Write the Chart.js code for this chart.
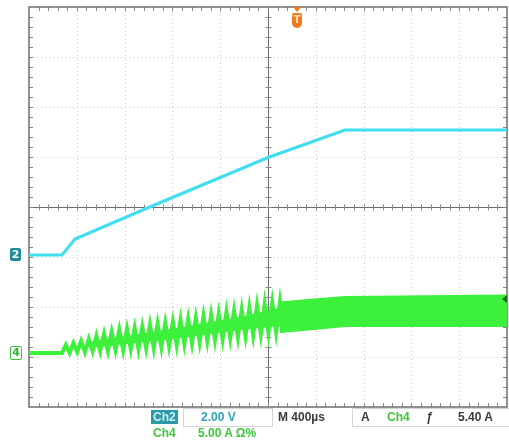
<!DOCTYPE html>
<html>
<head>
<meta charset="utf-8">
<script src="https://cdn.jsdelivr.net/npm/chart.js@4/dist/chart.umd.min.js"></script>
<style>
  html, body { margin: 0; padding: 0; background: #fff; }
  #wrap { position: relative; width: 509px; height: 443px; overflow: hidden; }
  #scope { position: absolute; left: 0; top: 0; }
  .lbl { position: absolute; white-space: nowrap; font-family: "Liberation Sans", Arial, sans-serif; font-weight: bold; font-size: 12px; line-height: 14px; }
  .mk { position: absolute; width: 11px; height: 13px; font: bold 11px/13px "DejaVu Sans", sans-serif; text-align: center; border-radius: 2px; }
  #mk2 { left: 10px; background: #1f8c9c; color: #fff; }
  #mk4 { left: 10px; border: 1px solid #3cc83c; color: #2fb82f; width: 10px; height: 12px; line-height: 12px; background: #fff; }
  #mkT { width: 10px; height: 15px; background: #f0781e; color: #ffd9b0; border-radius: 2px 2px 5px 5px; top: 13px; }
  .box { position: absolute; border: 1px solid #d4d4d4; }
</style>
</head>
<body>
<div id="wrap">
  <canvas id="scope" width="509" height="443"></canvas>
  <div class="mk" id="mk2">2</div>
  <div class="mk" id="mk4">4</div>
  <div class="mk" id="mkT">T</div>

  <div class="box" style="left:183px;top:408px;width:88px;height:17px;"></div>
  <div class="box" style="left:352px;top:408px;width:156px;height:17px;"></div>
  <div class="lbl" style="left:151px;top:410px;background:#2a9aaa;color:#cdeff3;padding:0 2px;">Ch2</div>
  <div class="lbl" style="left:201px;top:410px;color:#2aa6b8;">2.00 V</div>
  <div class="lbl" style="left:278px;top:410px;color:#3a3a3a;">M 400µs</div>
  <div class="lbl" style="left:361px;top:410px;color:#3a3a3a;">A</div>
  <div class="lbl" style="left:387px;top:410px;color:#3cc83c;">Ch4</div>
  <div class="lbl" style="left:426px;top:410px;color:#3a3a3a;font-style:italic;">ƒ</div>
  <div class="lbl" style="left:458px;top:410px;color:#3a3a3a;">5.40 A</div>
  <div class="lbl" style="left:153px;top:426px;color:#3cc83c;">Ch4</div>
  <div class="lbl" style="left:198px;top:426px;color:#3cc83c;">5.00 A Ω%</div>
</div>

<script>
// Scope capture: Ch2 (2 V/div) and Ch4 (5 A/div), 400 us/div, 10 x 8 divisions.

const TIME_PER_DIV = 400;   // us
const CH2_PER_DIV = 2;      // V
const CH4_PER_DIV = 5;      // A
const TRIGGER_TIME = 2243;  // us, position of the orange T marker
const TRIGGER_LEVEL = 5.4;  // A on Ch4

// Ch2 voltage ramp (us, V)
const ch2Time  = [0, 276, 385, 1000, 2000, 2644, 4000];
const ch2Volts = [0, 0,   0.64, 1.9, 3.9,  5.0,  5.0];

// Ch4 current before and during the visible ripple (us, A)
const ch4Time = [
  0, 276, 308, 340, 372, 404, 436, 468, 500, 532, 564, 596, 628, 660, 692, 724,
  756, 788, 820, 852, 884, 916, 948, 980, 1012, 1044, 1076, 1108, 1140, 1172, 1204, 1236,
  1268, 1300, 1332, 1364, 1396, 1428, 1460, 1492, 1524, 1556, 1588, 1620, 1652, 1684, 1716, 1748,
  1780, 1812, 1844, 1876, 1908, 1940, 1972, 2004, 2036, 2068, 2100, 2132
];
const ch4Amps = [
  0, 0, 0.8, 0.0, 1.0, 0.1, 1.2, 0.1, 1.4, 0.2, 1.7, 0.2, 1.9, 0.2, 2.1, 0.3,
  2.3, 0.3, 2.4, 0.4, 2.5, 0.4, 2.6, 0.5, 2.8, 0.5, 2.9, 0.6, 3.0, 0.7, 3.1, 0.8,
  3.3, 0.9, 3.4, 1.0, 3.5, 1.1, 3.7, 1.2, 3.8, 1.3, 3.9, 1.4, 4.1, 1.5, 4.2, 1.6,
  4.3, 1.7, 4.5, 1.8, 4.7, 1.9, 4.9, 2.0, 5.0, 2.1, 5.1, 2.1
];

// solid core of the ripple, where the teeth overlap (us, A)
const coreTime  = [500, 1140, 1766, 2100];
const coreUpper = [1.0, 2.2,  3.5,  4.4];
const coreLower = [0.6, 1.4,  2.4,  2.8];

// Ch4 ripple where it blurs into a solid band (us, A)
const bandTime  = [2100, 2388, 2644, 4000];
const bandUpper = [5.05, 5.35, 5.6,  5.75];
const bandLower = [2.1,  2.4,  2.7,  2.7];

// ground markers: divisions from screen centre
const CH2_OFFSET = -0.96;
const CH4_OFFSET = -2.92;

const CYAN = '#3fdff0';
const GREEN = '#3cf03c';

function pts(xs, ys) {
  return xs.map((x, i) => ({ x, y: ys[i] }));
}

function bandPair(label, xs, top, bottom) {
  return [
    { label: label + ' top', data: pts(xs, top), yAxisID: 'y4',
      borderColor: GREEN, borderWidth: 2, pointRadius: 0, tension: 0,
      backgroundColor: GREEN, fill: '+1' },
    { label: label + ' bottom', data: pts(xs, bottom), yAxisID: 'y4',
      borderColor: GREEN, borderWidth: 2, pointRadius: 0, tension: 0, fill: false }
  ];
}

const gridPlugin = {
  id: 'scopeGrid',
  beforeDatasetsDraw(chart) {
    const { ctx, chartArea: a, scales } = chart;
    const xs = scales.x, ys = scales.y4;
    const xAt = d => xs.getPixelForValue(d * TIME_PER_DIV);
    const yAt = d => ys.getPixelForValue((d - CH4_OFFSET) * CH4_PER_DIV);
    ctx.save();

    // dotted graticule
    ctx.strokeStyle = '#c9c9c9';
    ctx.lineWidth = 1;
    ctx.setLineDash([1, 3]);
    for (let i = 1; i < 10; i++) {
      if (i === 5) continue;
      const x = Math.round(xAt(i)) + 0.5;
      ctx.beginPath(); ctx.moveTo(x, a.top); ctx.lineTo(x, a.bottom); ctx.stroke();
    }
    for (let j = -3; j <= 3; j++) {
      if (j === 0) continue;
      const y = Math.round(yAt(j)) + 0.5;
      ctx.beginPath(); ctx.moveTo(a.left, y); ctx.lineTo(a.right, y); ctx.stroke();
    }
    ctx.setLineDash([]);

    // centre cross with minor ticks
    const cx = Math.round(xAt(5)) + 0.5, cy = Math.round(yAt(0)) + 0.5;
    ctx.strokeStyle = '#6a6a6a';
    ctx.beginPath();
    ctx.moveTo(cx, a.top); ctx.lineTo(cx, a.bottom);
    ctx.moveTo(a.left, cy); ctx.lineTo(a.right, cy);
    ctx.stroke();
    ctx.strokeStyle = '#8a8a8a';
    ctx.beginPath();
    for (let k = 1; k < 50; k++) {
      const x = Math.round(xAt(k / 5)) + 0.5;
      ctx.moveTo(x, cy - 3); ctx.lineTo(x, cy + 3);
      ctx.moveTo(x, a.top); ctx.lineTo(x, a.top + 4);
      ctx.moveTo(x, a.bottom); ctx.lineTo(x, a.bottom - 4);
    }
    for (let k = -19; k < 20; k++) {
      const y = Math.round(yAt(k / 5)) + 0.5;
      ctx.moveTo(cx - 3, y); ctx.lineTo(cx + 3, y);
      ctx.moveTo(a.left, y); ctx.lineTo(a.left + 4, y);
      ctx.moveTo(a.right, y); ctx.lineTo(a.right - 4, y);
    }
    ctx.stroke();

    // frame
    ctx.strokeStyle = '#6e6e6e';
    ctx.lineWidth = 1.5;
    ctx.strokeRect(a.left, a.top, a.right - a.left, a.bottom - a.top);
    ctx.restore();
  },
  afterDraw(chart) {
    const { ctx, chartArea: a, scales } = chart;
    // trigger position arrow on top edge
    const tx = scales.x.getPixelForValue(TRIGGER_TIME);
    ctx.save();
    ctx.fillStyle = '#f0781e';
    ctx.beginPath();
    ctx.moveTo(tx - 4, a.top); ctx.lineTo(tx + 4, a.top); ctx.lineTo(tx, a.top + 5);
    ctx.closePath(); ctx.fill();
    // trigger level arrow on right edge
    const ty = scales.y4.getPixelForValue(TRIGGER_LEVEL);
    ctx.fillStyle = '#1f6e1f';
    ctx.beginPath();
    ctx.moveTo(a.right, ty - 4); ctx.lineTo(a.right, ty + 4); ctx.lineTo(a.right - 5, ty);
    ctx.closePath(); ctx.fill();
    ctx.restore();

    // channel / trigger markers placed from the scales
    document.getElementById('mk2').style.top = (scales.y2.getPixelForValue(0) - 7) + 'px';
    document.getElementById('mk4').style.top = (scales.y4.getPixelForValue(0) - 7) + 'px';
    document.getElementById('mkT').style.left = (tx - 5) + 'px';
  }
};

new Chart(document.getElementById('scope'), {
  type: 'line',
  data: {
    datasets: [
      { label: 'Ch2', data: pts(ch2Time, ch2Volts), yAxisID: 'y2',
        borderColor: CYAN, borderWidth: 3, pointRadius: 0, tension: 0, fill: false },
      { label: 'Ch4', data: pts(ch4Time, ch4Amps), yAxisID: 'y4',
        borderColor: GREEN, borderWidth: 4, pointRadius: 0, tension: 0, fill: false },
      ...bandPair('Ch4 core', coreTime, coreUpper, coreLower),
      ...bandPair('Ch4 band', bandTime, bandUpper, bandLower)
    ]
  },
  options: {
    responsive: false,
    animation: false,
    layout: { padding: { left: 29, right: 2, top: 7, bottom: 36 } },
    plugins: { legend: { display: false }, tooltip: { enabled: false } },
    scales: {
      x: { type: 'linear', display: false, min: 0, max: 10 * TIME_PER_DIV },
      y2: { type: 'linear', display: false,
            min: (-4 - CH2_OFFSET) * CH2_PER_DIV, max: (4 - CH2_OFFSET) * CH2_PER_DIV },
      y4: { type: 'linear', display: false,
            min: (-4 - CH4_OFFSET) * CH4_PER_DIV, max: (4 - CH4_OFFSET) * CH4_PER_DIV }
    }
  },
  plugins: [gridPlugin]
});
</script>
</body>
</html>
